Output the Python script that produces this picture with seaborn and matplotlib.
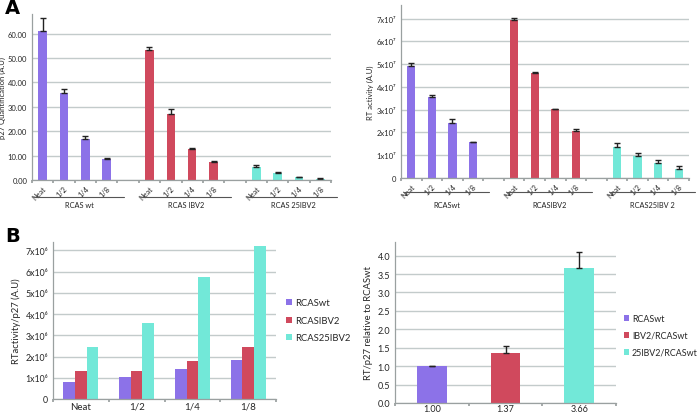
import numpy as np
import pandas as pd
import matplotlib
matplotlib.use("Agg")
import matplotlib.pyplot as plt
import matplotlib.transforms as mtransforms
import seaborn as sns

# ---------------- data ----------------
dilutions = ["Neat", "1/2", "1/4", "1/8"]

groups_p27 = ["RCAS wt", "RCAS IBV2", "RCAS 25IBV2"]
p27_wt = [61.1, 35.6, 16.7, 8.5]
p27_wt_err = [5.1, 1.5, 1.5, 0.4]
p27_ibv2 = [53.4, 27.0, 12.7, 7.3]
p27_ibv2_err = [1.0, 2.0, 0.3, 0.3]
p27_25ibv2 = [5.5, 2.9, 1.1, 0.4]
p27_25ibv2_err = [0.7, 0.3, 0.3, 0.3]

groups_rt = ["RCASwt", "RCASIBV2", "RCAS25IBV 2"]
rt_wt = [4.93e7, 3.57e7, 2.41e7, 1.57e7]
rt_wt_err = [0.12e7, 0.07e7, 0.16e7, 0.03e7]
rt_ibv2 = [6.96e7, 4.63e7, 3.02e7, 2.08e7]
rt_ibv2_err = [0.09e7, 0.02e7, 0.03e7, 0.06e7]
rt_25ibv2 = [1.35e7, 0.98e7, 0.66e7, 0.40e7]
rt_25ibv2_err = [0.18e7, 0.14e7, 0.15e7, 0.14e7]

series_ratio = ["RCASwt", "RCASIBV2", "RCAS25IBV2"]
ratio_wt = [0.82e6, 1.02e6, 1.42e6, 1.86e6]
ratio_ibv2 = [1.30e6, 1.30e6, 1.78e6, 2.47e6]
ratio_25ibv2 = [2.47e6, 3.57e6, 5.74e6, 7.22e6]

rel_series = ["RCASwt", "IBV2/RCASwt", "25IBV2/RCASwt"]
rel_values = [1.00, 1.37, 3.66]
rel_err = [0.01, 0.17, 0.45]
rel_ticklabels = ["1.00", "1.37", "3.66"]

colors = ["#8c72e8", "#d0495d", "#72e8d8"]

# ---------------- style ----------------
sns.set_theme(style="white")
plt.rcParams["font.family"] = ["Lato", "DejaVu Sans"]
grid_c = "#c3cbcb"
spine_c = "#9aa0a0"

fig = plt.figure(figsize=(7.0, 4.14), dpi=100)
W, H = 700.0, 414.0


def add_ax(l, r, t, b):
    return fig.add_axes([l / W, 1 - b / H, (r - l) / W, (b - t) / H])


def style_ax(ax):
    ax.set_axisbelow(True)
    ax.yaxis.grid(True, color=grid_c, linewidth=1.0)
    ax.xaxis.grid(False)
    for s in ["top", "right"]:
        ax.spines[s].set_visible(False)
    for s in ["left", "bottom"]:
        ax.spines[s].set_color(spine_c)
        ax.spines[s].set_linewidth(0.9)
    ax.tick_params(axis="y", length=2, color=spine_c, pad=1.5)


def grouped_panel(ax, groups, vals, errs, ylim, yfmt, ylabel, ul_y, txt_y, lab_fs):
    order, rows = [], []
    for gi, g in enumerate(groups):
        for d, v in zip(dilutions, vals[gi]):
            key = f"{g}|{d}"
            order.append(key)
            rows.append({"slot": key, "value": v, "group": g})
        if gi < len(groups) - 1:
            order.append(f"gap{gi}")
    df = pd.DataFrame(rows)
    sns.barplot(data=df, x="slot", y="value", hue="group", order=order,
                hue_order=groups, palette=colors, dodge=False, width=0.4,
                saturation=1, legend=False, ax=ax, linewidth=0)
    for gi, g in enumerate(groups):
        xs = [order.index(f"{g}|{d}") for d in dilutions]
        ax.errorbar(xs, vals[gi], yerr=[np.zeros(4), errs[gi]], fmt="none",
                    ecolor="#222222", elinewidth=1.0, capsize=2.2, capthick=1.0)
    style_ax(ax)
    ax.set_ylim(*ylim)
    ax.set_xlim(-0.5, len(order) - 0.5)
    ax.yaxis.set_major_formatter(matplotlib.ticker.FuncFormatter(yfmt))
    ax.tick_params(axis="y", labelsize=5.5)
    ax.set_ylabel(ylabel, fontsize=5.5, labelpad=1.5)
    ax.set_xlabel("")
    ax.set_xticks(np.arange(-0.5, len(order) - 0.4, 1.0))
    ax.set_xticklabels([])
    ax.tick_params(axis="x", which="major", length=2.5, color=spine_c, bottom=True)
    centers, labels = [], []
    for i, k in enumerate(order):
        if "|" in k:
            centers.append(i)
            labels.append(k.split("|")[1])
    ax.set_xticks(centers, minor=True)
    ax.set_xticklabels(labels, minor=True, rotation=45, ha="right",
                       rotation_mode="anchor", fontsize=5.3)
    ax.tick_params(axis="x", which="minor", length=0, pad=3)
    trans = mtransforms.blended_transform_factory(ax.transData, ax.transAxes)
    for gi, g in enumerate(groups):
        first = order.index(f"{g}|{dilutions[0]}")
        last = order.index(f"{g}|{dilutions[-1]}")
        ax.plot([first - 0.35, last + 0.8], [ul_y, ul_y], transform=trans,
                color="#555555", linewidth=0.8, clip_on=False)
        ax.text((first + last + 0.45) / 2, txt_y, g, transform=trans,
                ha="center", va="center", fontsize=lab_fs, color="#222222")


def sci_fmt(exp):
    sup = {"6": "\u2076", "7": "\u2077"}[str(exp)]

    def f(v, pos):
        n = int(round(v / 10 ** exp))
        return "0" if n == 0 else f"{n}x10{sup}"
    return f


# ---- Panel A left ----
axA1 = add_ax(32, 331, 15, 181)
grouped_panel(axA1, groups_p27, [p27_wt, p27_ibv2, p27_25ibv2],
              [p27_wt_err, p27_ibv2_err, p27_25ibv2_err], (0, 68),
              lambda v, p: f"{v:.2f}", "p27 Quantification (A.U)",
              -0.103, -0.15, 5.3)
axA1.set_yticks(np.arange(0, 61, 10))

# ---- Panel A right ----
axA2 = add_ax(401, 689, 6, 179)
grouped_panel(axA2, groups_rt, [rt_wt, rt_ibv2, rt_25ibv2],
              [rt_wt_err, rt_ibv2_err, rt_25ibv2_err], (0, 7.6e7),
              sci_fmt(7), "RT activity (A.U)", -0.081, -0.156, 5.3)
axA2.set_yticks(np.arange(0, 7.1e7, 1e7))

# ---- Panel B left ----
axB1 = add_ax(53, 276, 243, 400)
rows = []
for s, vals in zip(series_ratio, [ratio_wt, ratio_ibv2, ratio_25ibv2]):
    for d, v in zip(dilutions, vals):
        rows.append({"dil": d, "value": v, "series": s})
dfB = pd.DataFrame(rows)
sns.barplot(data=dfB, x="dil", y="value", hue="series", order=dilutions,
            hue_order=series_ratio, palette=colors, width=0.63, gap=0,
            saturation=1, ax=axB1, linewidth=0)
style_ax(axB1)
axB1.set_ylim(0, 7.4e6)
axB1.set_yticks(np.arange(0, 7.1e6, 1e6))
axB1.yaxis.set_major_formatter(matplotlib.ticker.FuncFormatter(sci_fmt(6)))
axB1.tick_params(axis="y", labelsize=6.3)
axB1.set_xlim(-0.5, 3.5)
axB1.set_xticks(np.arange(-0.5, 3.6, 1.0))
axB1.set_xticklabels([])
axB1.tick_params(axis="x", which="major", length=2.5, color=spine_c, bottom=True)
axB1.set_xticks(range(4), minor=True)
axB1.set_xticklabels(dilutions, minor=True, fontsize=7)
axB1.tick_params(axis="x", which="minor", length=0, pad=2)
axB1.set_xlabel("")
axB1.set_ylabel("RTactivity/p27 (A.U)", fontsize=6.8, labelpad=3)
axB1.legend(loc="center left", bbox_to_anchor=(1.03, 0.5), frameon=False,
            fontsize=6.8, handlelength=0.6, handleheight=0.6, handletextpad=0.3,
            labelspacing=0.9, borderaxespad=0)

# ---- Panel B right ----
axB2 = add_ax(395, 616, 243, 404)
dfR = pd.DataFrame({"series": rel_series, "value": rel_values})
sns.barplot(data=dfR, x="series", y="value", hue="series", order=rel_series,
            hue_order=rel_series, palette=colors, dodge=False, width=0.4,
            saturation=1, ax=axB2, linewidth=0, legend=True)
axB2.errorbar(range(len(rel_series)), rel_values,
              yerr=[np.zeros(len(rel_err)), rel_err], fmt="none",
              ecolor="#222222", elinewidth=1.0, capsize=2.5, capthick=1.0)
style_ax(axB2)
axB2.set_ylim(0, 4.37)
axB2.set_yticks(np.arange(0, 4.01, 0.5))
axB2.yaxis.set_major_formatter(matplotlib.ticker.FormatStrFormatter("%.1f"))
axB2.tick_params(axis="y", labelsize=6.5)
axB2.set_xlim(-0.5, 2.5)
axB2.set_xticks(np.arange(-0.5, 2.6, 1.0))
axB2.set_xticklabels([])
axB2.tick_params(axis="x", which="major", length=2.5, color=spine_c, bottom=True)
axB2.set_xticks(range(3), minor=True)
axB2.set_xticklabels(rel_ticklabels, minor=True, fontsize=6.5)
axB2.tick_params(axis="x", which="minor", length=0, pad=0.5)
axB2.set_xlabel("")
axB2.set_ylabel("RT/p27 relative to RCASwt", fontsize=6.8, labelpad=3)
axB2.legend(loc="center left", bbox_to_anchor=(1.02, 0.42), frameon=False,
            fontsize=6.4, handlelength=0.6, handleheight=0.6, handletextpad=0.3,
            labelspacing=0.9, borderaxespad=0)

# panel letters
fig.text(5 / W, 1 - 14 / H, "A", fontsize=14, fontweight="bold", color="black",
         va="baseline", family="DejaVu Sans")
fig.text(5 / W, 1 - 242 / H, "B", fontsize=14, fontweight="bold", color="black",
         va="baseline", family="DejaVu Sans")

fig.savefig("out.png", dpi=100, facecolor="white")
